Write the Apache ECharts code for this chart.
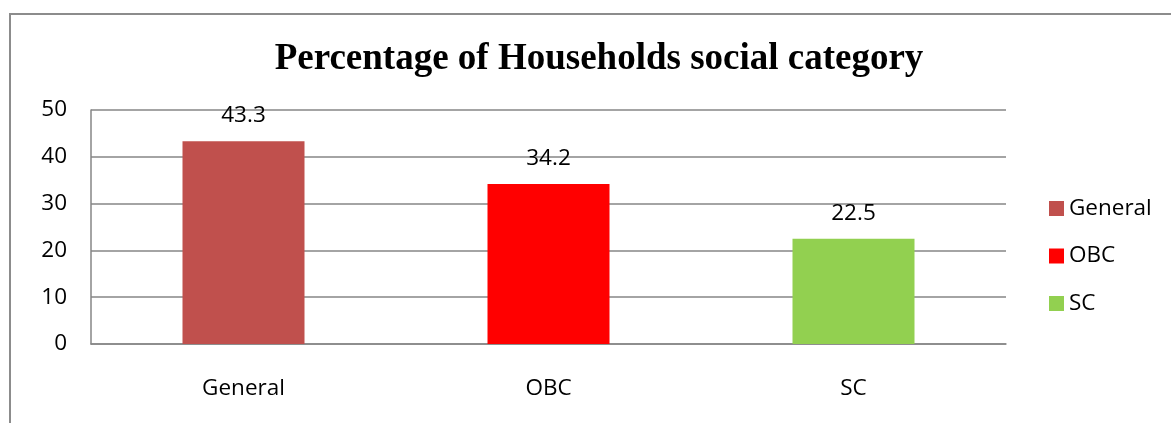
<!DOCTYPE html>
<html><head><meta charset="utf-8">
<script src="https://cdn.jsdelivr.net/npm/echarts@6/dist/echarts.min.js"></script>
<style>html,body{margin:0;padding:0;background:#fff}#c{width:1171px;height:423px}</style>
</head><body><div id="c"></div>
<script>
const categories = ['General', 'OBC', 'SC'];
const values = [43.3, 34.2, 22.5];
const colors = ['#C0504D', '#FF0000', '#92D050'];
const yTicks = [0, 10, 20, 30, 40, 50];

const font = '"Open Sans", Lato, sans-serif';
const series = categories.map((name, i) => ({
  name: name,
  type: 'bar',
  stack: 'all',
  barWidth: '40%',
  itemStyle: { color: colors[i] },
  label: { show: true, position: 'top', distance: 14, color: '#000', fontSize: 22.5, fontFamily: font },
  data: categories.map((c, j) => j === i ? values[i] : '-')
}));

const chart = echarts.init(document.getElementById('c'), null, { renderer: 'canvas' });
chart.setOption({
  animation: false,
  backgroundColor: '#fff',
  graphic: [{ type: 'rect', shape: { x: 10, y: 14, width: 1300, height: 600 }, style: { fill: 'none', stroke: '#8c8c8c', lineWidth: 2 }, silent: true, z: -1 }],
  title: {
    text: 'Percentage of Households social category',
    left: 594, top: 36, textAlign: 'center',
    textStyle: { fontFamily: '"Liberation Serif", "Times New Roman", serif', fontWeight: 'bold', fontSize: 37, color: '#000' }
  },
  legend: {
    orient: 'vertical', left: 1044, top: 192, itemWidth: 15, itemHeight: 15, itemGap: 24.5,
    icon: 'rect',
    textStyle: { fontFamily: font, fontSize: 22.5, lineHeight: 20, color: '#000' },
    data: categories
  },
  grid: { left: 91, right: 165, top: 110, bottom: 79 },
  xAxis: {
    type: 'category', data: categories,
    axisLine: { show: true, lineStyle: { color: '#868686', width: 1.5 } },
    axisTick: { show: false },
    axisLabel: { fontFamily: font, fontSize: 22.5, color: '#000', margin: 33 }
  },
  yAxis: {
    type: 'value', min: yTicks[0], max: yTicks[yTicks.length - 1], interval: 10,
    axisLine: { show: true, lineStyle: { color: '#868686', width: 1.5 } },
    axisTick: { show: false },
    splitLine: { lineStyle: { color: '#868686', width: 1.5 } },
    axisLabel: { fontFamily: font, fontSize: 22.5, color: '#000', margin: 24 }
  },
  series: series
});
</script></body></html>
